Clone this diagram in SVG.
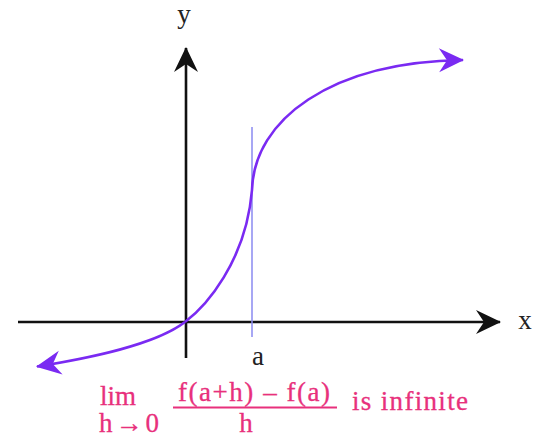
<svg xmlns="http://www.w3.org/2000/svg" width="534" height="437" viewBox="0 0 534 437">
<style>
.lbl{font-family:"Liberation Serif","Times New Roman",serif;font-size:27px;fill:#222}
.pk{font-family:"Liberation Serif","Times New Roman",serif;font-size:27px;fill:#e8307c;stroke:#e8307c;stroke-width:0.3}
.axis{stroke:#111;stroke-width:2.6;fill:none}
.curve{stroke:#7a2af2;stroke-width:2.6;fill:none}
</style>
<defs>
<marker id="ab" markerUnits="userSpaceOnUse" viewBox="-26 -13 28 26" refX="0" refY="0" markerWidth="28" markerHeight="26" orient="auto">
<path d="M1,0 L-24,-12 L-16,0 L-24,12 Z" fill="#111"/>
</marker>
<marker id="ap" markerUnits="userSpaceOnUse" viewBox="-26 -13 28 26" refX="0" refY="0" markerWidth="28" markerHeight="26" orient="auto">
<path d="M1,0 L-24,-12 L-16,0 L-24,12 Z" fill="#7a2af2"/>
</marker>
</defs>
<g id="connectors">
<line class="axis" x1="18" y1="322" x2="500" y2="322" marker-end="url(#ab)"/>
<line class="axis" x1="186" y1="358" x2="186" y2="48" marker-end="url(#ab)"/>
<line x1="252" y1="127" x2="252" y2="337" stroke="#8a8af0" stroke-width="1.5"/>
<path class="curve" d="M185 322 C155 345 90 358 37 366.5" marker-end="url(#ap)"/>
<path class="curve" d="M185 322 C205 307 246 262 252 190 C254 120 330 62 463 60" marker-end="url(#ap)"/>
</g>
<g id="labels">
<text class="lbl" x="184" y="23" text-anchor="middle">y</text>
<text class="lbl" x="525" y="329" text-anchor="middle">x</text>
<text class="lbl" x="258" y="365" text-anchor="middle">a</text>
</g>
<g id="formula">
<text class="pk" x="100" y="405">lim</text>
<text class="pk" x="99" y="432" textLength="60">h→0</text>
<text class="pk" x="178" y="401" textLength="152">f(a+h) – f(a)</text>
<line x1="173" y1="407.5" x2="337" y2="407.5" stroke="#e8307c" stroke-width="2"/>
<text class="pk" x="246" y="432" text-anchor="middle">h</text>
<text class="pk" x="352" y="410" textLength="116">is infinite</text>
</g>
</svg>
